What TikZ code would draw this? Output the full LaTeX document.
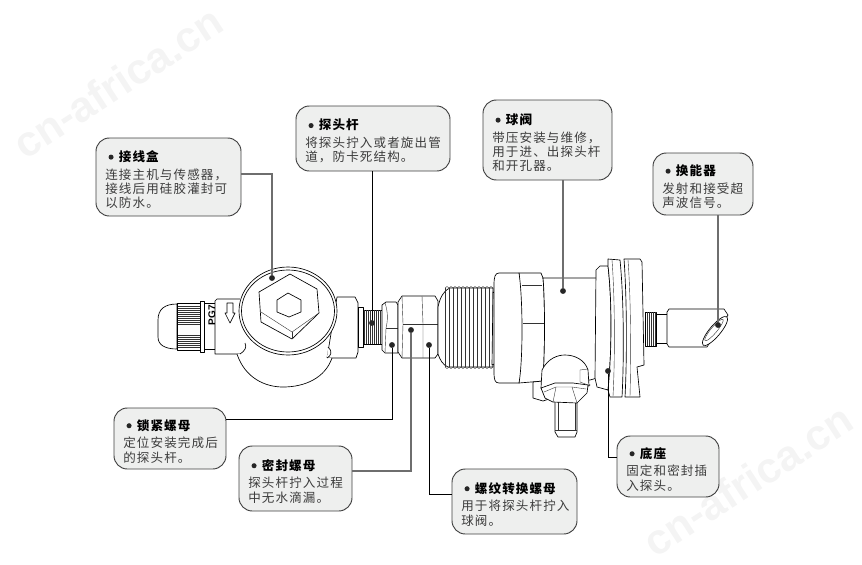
\documentclass[tikz,border=0pt]{standalone}
\usepackage{fontspec}
\usepackage{tikz}
\newfontfamily\cjkfont[LetterSpace=9]{Noto Sans CJK SC}
\newfontfamily\labelfont{Liberation Sans}
\definecolor{boxgray}{HTML}{EEEFEE}
\definecolor{leadgray}{HTML}{6E6E6E}
\definecolor{bodytext}{HTML}{3C3C3C}
\definecolor{markgray}{HTML}{F4F4F4}
\newcommand{\parttitle}[1]{\rule{0pt}{12pt}\hspace*{2.4pt}\tikz[baseline=-3.2pt]\fill[black!85] (0,0) circle [radius=1.9pt];\hspace{4pt}{\bfseries\color{black}#1}\\[2.8pt]}
\tikzset{
	partbox/.style 2 args={shape=rectangle,rounded corners=10pt,draw=black!75,line width=0.7pt,fill=boxgray,
		text width=#1-14pt,minimum height=#2,inner xsep=7pt,inner ysep=0pt,align=left,text=bodytext,
		font=\cjkfont\fontsize{9.4}{10.6}\selectfont},
	leadblack/.style={-,draw=black,line width=0.75pt},
	leadlight/.style={-,draw=leadgray,line width=0.85pt},
	leaddot/.style={shape=circle,fill=black!85,inner sep=0pt,minimum size=4.4pt},
	part/.style={draw=black,line width=0.5pt,fill=white,line join=round},
	detail/.style={draw=black!80,line width=0.3pt},
	watermark/.style={text=markgray,rotate=33,font=\labelfont\bfseries\fontsize{32}{32}\selectfont}
}
\begin{document}
\begin{tikzpicture}[x=0.75pt,y=-0.75pt]
	\useasboundingbox (0,0) rectangle (862,564);

	\node[watermark] (mark1) at (118,82) {cn-africa.cn};
	\node[watermark] (mark2) at (748,480) {cn-africa.cn};

	% cable gland and junction box
	\draw[part] (177,304) .. controls (165,304) and (158,309) .. (158,320) -- (158,337) .. controls (158,345) and (165,349) .. (177,349) -- cycle;
	\draw[part] (177,303) rectangle (200,350);
	\foreach \y in {306,308,...,325} \draw[detail] (178,\y) -- (200,\y);
	\foreach \y in {335,337,...,348} \draw[detail] (178,\y) -- (200,\y);
	\draw[part] (200,301) rectangle (204,352);
	\draw[part] (204,303) rectangle (215,349);
	\node[text=black,rotate=90,font=\labelfont\bfseries\fontsize{7.5}{7.5}\selectfont,inner sep=0pt] (pg) at (212,315) {PG7};
	\draw[part] (240,299) -- (217,299) -- (215,301) -- (215,354) -- (240,354);
	\draw[part] (227,303) -- (233,303) -- (233,313) -- (235,313) -- (230,323) -- (225,313) -- (227,313) -- cycle;
	\draw[part] (337,297) -- (355,297) -- (358,303) -- (358,352) -- (356,358) -- (327,358) -- cycle;
	\draw[part] (237,354) .. controls (245,378) and (265,387) .. (283,387) .. controls (305,387) and (325,378) .. (332,358);
	\draw[part] (240,354) .. controls (245,351) and (247,347) .. (245,343);
	\draw[part] (327,358) .. controls (331,356) and (333,351) .. (328,347);
	\draw[part] (288,311) ellipse [x radius=49,y radius=44];
	\draw[part] (288,311) ellipse [x radius=46.5,y radius=41];
	\draw[part] (290,274) -- (317,289) -- (319,313) -- (292,339) -- (261,322) -- (259,292) -- cycle;
	\draw[detail] (261,312) -- (292,332) -- (319,313);
	\draw[detail] (292,332) -- (292,339);
	\draw[part] (288,293) -- (301,300) -- (301,312) -- (289,317) -- (277,312) -- (277,300) -- cycle;

	% neck, lock nut and seal nut
	\draw[part] (362,310) rectangle (382,344);
	\foreach \x in {364,366,...,381} \draw[detail] (\x,310) -- (\x,344);
	\draw[part] (358,307) rectangle (363,347);
	\draw[part] (386,302) -- (396,302) -- (398,305) -- (398,353) -- (385,353) -- (382,350) -- (382,305) -- cycle;
	\draw[detail] (386,328) -- (398,328);
	\draw[detail] (385,303) .. controls (388,312) and (388,320) .. (386,328) -- (385,353);
	\draw[part] (402,296) -- (435,296) -- (438,301) -- (438,354) -- (435,358) -- (402,358) -- (398,352) -- (398,302) -- cycle;
	\draw[detail] (402,296) -- (403,324) -- (402,358);
	\draw[detail] (422,296) -- (423,324) -- (423,358);
	\draw[detail] (403,324) -- (438,324);

	% thread and ball valve
	\draw[part] (438,307) .. controls (440,298) and (443,291) .. (450,288) -- (493,288) -- (493,367) -- (448,367) .. controls (443,365) and (440,360) .. (438,354) -- cycle;
	\foreach \x in {445,449,...,489} {
		\draw[detail] (\x,288) .. controls (\x+1,286) and (\x+3,286) .. (\x+4,288);
		\draw[detail] (\x,367) .. controls (\x+1,369) and (\x+3,369) .. (\x+4,367);
		\draw[detail] (\x,288) -- (\x,367);
	}
	\draw[part] (493,292) -- (498,295) -- (499,325) -- (498,362) -- (492,365) -- cycle;
	\draw[part] (519,273) -- (541,273) -- (543,278) .. controls (545,300) and (545,350) .. (543,381) -- (519,383) -- cycle;
	\draw[detail] (522,285) -- (542,285);
	\draw[detail] (523,323) -- (544,323);
	\draw[part] (519,273) -- (499,273) .. controls (495,273) and (494,277) .. (494,285) -- (494,372) .. controls (494,380) and (495,383) .. (499,383) -- (519,383) .. controls (523,360) and (523,300) .. (519,273) -- cycle;
	\draw[part] (543,278) -- (597,278) .. controls (601,305) and (601,355) .. (597,378) -- (590,380) -- (543,381) .. controls (545,350) and (545,300) .. (543,278) -- cycle;
	\draw[part] (533,382) -- (533,398) -- (543,401) -- (590,385) -- (543,381) -- cycle;
	\draw[part] (542,370) .. controls (548,358) and (558,355) .. (565,355) .. controls (575,355) and (585,360) .. (588,370) -- (589,386) -- (541,388) -- cycle;
	\draw[detail] (580,370) -- (588,369);
	\draw[detail] (580,370) -- (580,382) -- (588,385);
	\draw[part] (555,400) -- (577,400) -- (577,432) -- (575,437) -- (558,437) -- (555,432) -- cycle;
	\draw[detail] (555,430) -- (577,430);
	\draw[detail] (558,402) -- (558,430);
	\draw[detail] (575,402) -- (575,430);
	\draw[part] (541,388) -- (555,383) -- (573,383) -- (588,385) -- (587,393) -- (580,400) -- (577,403) -- (553,402) -- (545,398) -- cycle;
	\draw[detail] (544,392) -- (556,387) -- (572,387) -- (586,389);
	\draw[detail] (556,387) -- (553,402);
	\draw[detail] (572,387) -- (577,403);

	% base flange and transducer
	\draw[part] (608,266) -- (600,266) -- (596,270) -- (595,378) -- (597,387) -- (608,390) .. controls (612,350) and (612,300) .. (608,266) -- cycle;
	\draw[part] (608,259) -- (620,260) .. controls (624,300) and (624,360) .. (622,397) -- (610,397) -- (608,390) .. controls (612,350) and (612,300) .. (608,266) -- cycle;
	\draw[detail] (612,260) .. controls (615,300) and (615,360) .. (613,396);
	\draw[part] (624,259) -- (640,259) -- (642,262) -- (644,365) -- (637,367) -- (640,397) -- (625,397) .. controls (627,360) and (627,300) .. (624,259) -- cycle;
	\draw[detail] (628,260) .. controls (631,300) and (631,360) .. (630,396);
	\draw[part] (645,312) rectangle (656,346);
	\foreach \x in {647,649,...,655} \draw[detail] (\x,312) -- (\x,346);
	\draw[part] (656,314) rectangle (667,343);
	\draw[part] (669,309) -- (724,309) -- (728,315) -- (707,347) -- (669,347) -- (667,344) -- (667,312) -- cycle;
	\draw[part] (715,331) ellipse [x radius=18.5,y radius=5.5,rotate=50];
	\draw[detail] (714,330) ellipse [x radius=14,y radius=3,rotate=50];

	% dots on the parts
	\node[leaddot] (djxh) at (272,278) {};
	\node[leaddot] (dtgan) at (372,323) {};
	\node[leaddot] (dqf) at (563,291) {};
	\node[leaddot] (dhnq) at (718,325) {};
	\node[leaddot] (ddz) at (608,371) {};
	\node[leaddot] (dsjlm) at (392,345) {};
	\node[leaddot] (dmflm) at (411,330) {};
	\node[leaddot] (dlwlm) at (429,345) {};

	% text boxes
	\node[partbox={108.75pt}{58.5pt}] (jxh) at (168.5,177) {\parttitle{接线盒}连接主机与传感器，\\接线后用硅胶灌封可\\以防水。};
	\node[partbox={115.5pt}{48.75pt}] (tgan) at (373,138.5) {\parttitle{探头杆}将探头拧入或者旋出管\\道，防卡死结构。};
	\node[partbox={96.75pt}{60pt}] (qf) at (547.5,140) {\parttitle{球阀}带压安装与维修，\\用于进、出探头杆\\和开孔器。};
	\node[partbox={75pt}{46.5pt}] (hnq) at (703,184) {\parttitle{换能器}发射和接受超\\声波信号。};
	\node[partbox={84pt}{45.75pt}] (sjlm) at (170,438.5) {\parttitle{锁紧螺母}定位安装完成后\\的探头杆。};
	\node[partbox={84.75pt}{48.75pt}] (mflm) at (295.5,478.5) {\parttitle{密封螺母}探头杆拧入过程\\中无水滴漏。};
	\node[partbox={93.75pt}{48.75pt}] (lwlm) at (514.5,501.5) {\parttitle{螺纹转换螺母}用于将探头杆拧入\\球阀。};
	\node[partbox={76.5pt}{45.75pt}] (dz) at (668,466.5) {\parttitle{底座}固定和密封插\\入探头。};

	% bends of the leader lines
	\coordinate (bjxh) at (272,174);
	\coordinate (bsjlm) at (392,419);
	\coordinate (bmflm) at (411,471);
	\coordinate (blwlm) at (429,494);
	\coordinate (bdz) at (608,457);

	\draw[leadlight] (jxh.east |- bjxh) -- (bjxh) -- (djxh);
	\draw[leadblack] (tgan.south -| dtgan) -- (dtgan);
	\draw[leadlight] (qf.south -| dqf) -- (dqf);
	\draw[leadlight] (hnq.south -| dhnq) -- (dhnq);
	\draw[leadblack] (sjlm.east |- bsjlm) -- (bsjlm) -- (dsjlm);
	\draw[leadlight] (mflm.east |- bmflm) -- (bmflm) -- (dmflm);
	\draw[leadblack] (lwlm.west |- blwlm) -- (blwlm) -- (dlwlm);
	\draw[leadblack] (dz.west |- bdz) -- (bdz) -- (ddz);

\end{tikzpicture}
\end{document}
